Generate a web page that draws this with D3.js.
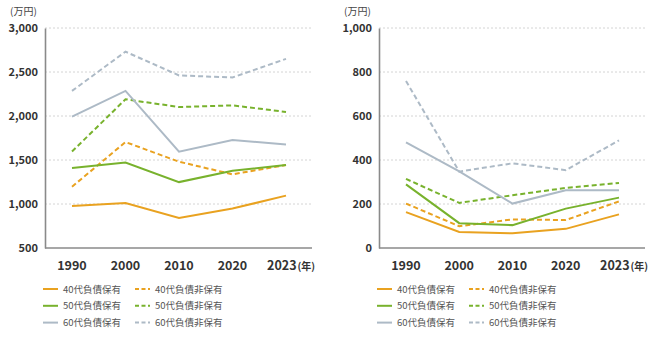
<!DOCTYPE html>
<html>
<head>
<meta charset="utf-8">
<script src="https://cdn.jsdelivr.net/npm/d3@7"></script>
<style>
  body { margin: 0; background: #fff; }
  svg text { font-family: "Noto Sans CJK JP", "Noto Sans", sans-serif; }
</style>
</head>
<body>
<div id="chart"></div>
<script>
const width = 660;
const height = 338;

// Data
const years = ["1990", "2000", "2010", "2020", "2023"];
const seriesNames = ["40代負債保有", "40代負債非保有", "50代負債保有", "50代負債非保有", "60代負債保有", "60代負債非保有"];

// Left panel
const left40Debt = [978, 1011, 842, 948, 1095];
const left40NoDebt = [1196, 1704, 1481, 1337, 1443];
const left50Debt = [1408, 1472, 1249, 1378, 1443];
const left50NoDebt = [1596, 2190, 2102, 2121, 2046];
const left60Debt = [1992, 2285, 1594, 1726, 1677];
const left60NoDebt = [2285, 2731, 2461, 2438, 2649];
const leftTicks = [500, 1000, 1500, 2000, 2500, 3000];

// Right panel
const right40Debt = [163, 73, 67, 87, 153];
const right40NoDebt = [202, 99, 130, 127, 212];
const right50Debt = [289, 113, 104, 179, 229];
const right50NoDebt = [314, 205, 240, 273, 296];
const right60Debt = [480, 348, 202, 262, 262];
const right60NoDebt = [759, 347, 385, 354, 489];
const rightTicks = [0, 200, 400, 600, 800, 1000];

const styles = [
  {color: "#E9A220", dash: null},
  {color: "#E9A220", dash: "5,3"},
  {color: "#78B22D", dash: null},
  {color: "#78B22D", dash: "5,3"},
  {color: "#ADBAC6", dash: null},
  {color: "#ADBAC6", dash: "5,3"}
];

const svg = d3.select("#chart")
  .append("svg")
    .attr("width", width)
    .attr("height", height);

const drawPanel = (opts) => {
  const g = svg.append("g");
  const top = 28, bottom = 248;

  const xScale = d3.scalePoint()
    .domain(years)
    .range([opts.x0 + 27, opts.x1 - 26]);

  const yScale = d3.scaleLinear()
    .domain([opts.ticks[0], opts.ticks[opts.ticks.length - 1]])
    .range([bottom, top]);

  // Gridlines
  g.append("g")
    .selectAll("line")
    .data(opts.ticks.slice(1))
    .join("line")
      .attr("x1", opts.x0)
      .attr("x2", opts.x1)
      .attr("y1", d => yScale(d))
      .attr("y2", d => yScale(d))
      .attr("stroke", "#d4d4d4")
      .attr("stroke-width", 1)
      .attr("stroke-dasharray", "2,2");

  // Y axis
  const leftAxis = d3.axisLeft(yScale)
    .tickValues(opts.ticks)
    .tickSize(0)
    .tickPadding(7)
    .tickFormat(d3.format(","));
  const yAxis = g.append("g")
    .attr("transform", `translate(${opts.x0}, 0)`)
    .call(leftAxis);
  yAxis.select(".domain")
    .attr("stroke", "#8a8a8a")
    .attr("stroke-width", 1.6);
  yAxis.selectAll("text")
    .attr("fill", "#333")
    .attr("font-size", 11)
    .attr("font-weight", "bold");

  // X axis line
  g.append("line")
    .attr("x1", opts.x0)
    .attr("x2", opts.x1)
    .attr("y1", bottom)
    .attr("y2", bottom)
    .attr("stroke", "#8a8a8a")
    .attr("stroke-width", 1.6);

  // X labels; the last one carries the (年) unit
  const xLabels = g.append("g")
    .selectAll("text")
    .data(years)
    .join("text")
      .attr("x", d => d === "2023" ? xScale(d) - 19 : xScale(d))
      .attr("y", 270)
      .attr("text-anchor", d => d === "2023" ? "start" : "middle")
      .attr("fill", "#333")
      .attr("font-size", 12.5)
      .attr("font-weight", "bold")
      .text(d => d);
  xLabels.filter(d => d === "2023")
    .append("tspan")
      .attr("font-size", 10)
      .attr("dx", 1)
      .text("(年)");

  // Unit label
  g.append("text")
    .attr("x", opts.x0 - 35)
    .attr("y", 15)
    .attr("fill", "#444")
    .attr("font-size", 10)
    .text("(万円)");

  // Lines
  const line = d3.line()
    .x((d, i) => xScale(years[i]))
    .y(d => yScale(d));

  g.append("g")
    .selectAll("path")
    .data(opts.series)
    .join("path")
      .attr("d", d => line(d))
      .attr("fill", "none")
      .attr("stroke", (d, i) => styles[i].color)
      .attr("stroke-width", 2)
      .attr("stroke-dasharray", (d, i) => styles[i].dash);

  // Legend
  const legend = g.append("g")
    .selectAll("g")
    .data(seriesNames)
    .join("g")
      .attr("transform", (d, i) => `translate(${opts.x0 - 2 + (i % 2) * 92}, ${289 + Math.floor(i / 2) * 16.8})`);
  legend.append("line")
    .attr("x1", 0)
    .attr("x2", 15)
    .attr("stroke", (d, i) => styles[i].color)
    .attr("stroke-width", 2)
    .attr("stroke-dasharray", (d, i) => styles[i].dash ? "4,2.5" : null);
  legend.append("text")
    .attr("x", 20)
    .attr("y", 3.5)
    .attr("fill", "#555")
    .attr("font-size", 9.5)
    .text(d => d);
};

drawPanel({
  x0: 45, x1: 312,
  ticks: leftTicks,
  series: [left40Debt, left40NoDebt, left50Debt, left50NoDebt, left60Debt, left60NoDebt]
});

drawPanel({
  x0: 379, x1: 645,
  ticks: rightTicks,
  series: [right40Debt, right40NoDebt, right50Debt, right50NoDebt, right60Debt, right60NoDebt]
});
</script>
</body>
</html>
